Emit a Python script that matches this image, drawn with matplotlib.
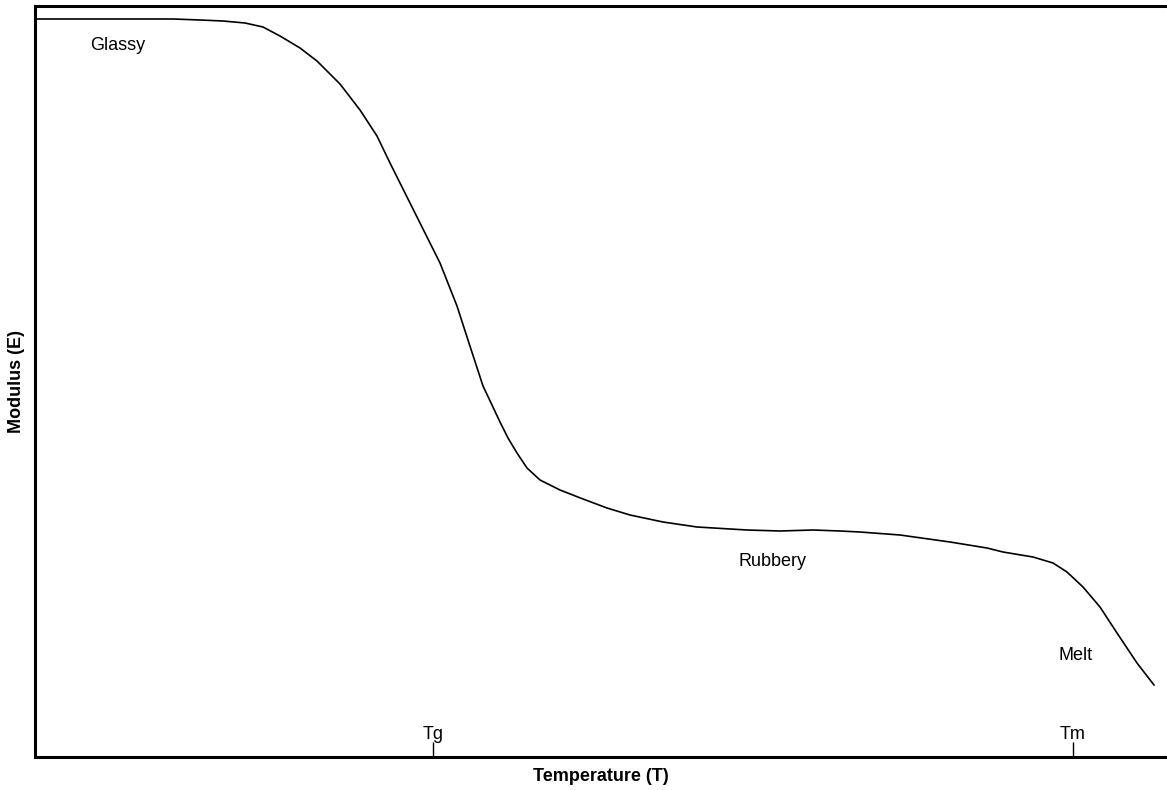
import matplotlib
matplotlib.use("Agg")
import matplotlib.pyplot as plt

plt.rcParams['font.family'] = ['Liberation Sans', 'DejaVu Sans']

# Curve (temperature, modulus in arbitrary units)
temperature = [35, 100, 140, 173, 200, 223, 245, 263, 280, 300, 317, 340, 360,
               377, 390, 403, 423, 440, 457, 467, 483, 492, 500, 508, 517,
               527, 540, 560, 583, 607, 630, 663, 697, 747, 780, 813, 840, 860,
               900, 950, 987, 1003, 1033, 1053, 1067, 1083, 1100, 1117, 1137,
               1154]
modulus = [771, 771, 771, 771, 770, 769, 767, 763, 754, 742, 729, 706, 680,
           654, 627, 601, 561, 527, 484, 453, 404, 385, 368, 352, 337,
           322, 310, 300, 291, 282, 275, 268, 263, 260, 259, 260, 259, 258,
           255, 248, 242, 238, 233, 227, 218, 203, 183, 157, 127,
           105]

tick_positions = [433, 1073]
tick_labels = ['Tg', 'Tm']

regions = ['Glassy', 'Rubbery', 'Melt']
region_x = [90, 738, 1059]
region_y = [744, 229, 134]

fig = plt.figure(figsize=(11.67, 7.9), dpi=100)
ax = fig.add_axes([35/1167, 1 - 757/790, 1 - 35/1167, (757 - 6)/790])
ax.plot(temperature, modulus, color='black', lw=1.2)
ax.set_xlim(35, 1167)
ax.set_ylim(33, 784)

for s in ['left', 'bottom', 'top']:
    ax.spines[s].set_linewidth(2.2)
ax.spines['right'].set_visible(False)

ax.set_xticks(tick_positions)
ax.set_xticklabels(tick_labels, fontsize=13)
ax.tick_params(axis='x', direction='in', length=11, width=1, pad=-22)
ax.set_yticks([])

for t, x, y in zip(regions, region_x, region_y):
    ax.text(x, y, t, fontsize=13, ha='left', va='center')

ax.set_xlabel('Temperature (T)', fontsize=13, fontweight='bold', labelpad=8)
ax.set_ylabel('Modulus (E)', fontsize=13, fontweight='bold', labelpad=7)

fig.savefig('out.png', dpi=100)
